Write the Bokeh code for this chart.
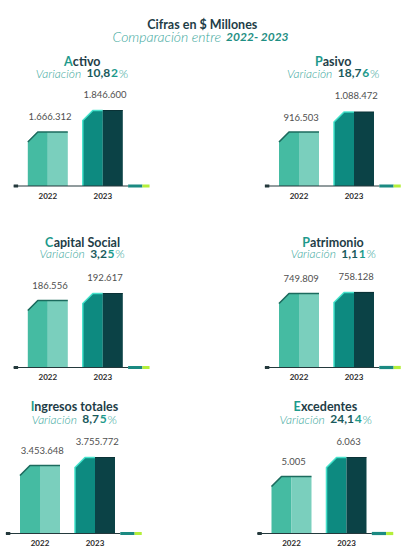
from bokeh.plotting import figure
from bokeh.layouts import column, row
from bokeh.models import Range1d, Label, ColumnDataSource
from bokeh.core.properties import value
from bokeh.embed import file_html
from bokeh.resources import INLINE

# ---------------- data ----------------
header_title = "Cifras en $ Millones"
header_sub = "Comparación entre"
header_years = "2022- 2023"
years = ["2022", "2023"]
panel_names = ["Activo", "Pasivo", "Capital Social", "Patrimonio",
               "Ingresos totales", "Excedentes"]
values_2022 = [1666312, 916503, 186556, 749809, 3453648, 5005]
values_2023 = [1846600, 1088472, 192617, 758128, 3755772, 6063]
variation_pct = ["10,82", "18,76", "3,25", "1,11", "8,75", "24,14"]
# value sitting on the baseline of each panel's (non zero based) axis
axis_floor = [1213495, 452187, 128544, 134203, 885594, 1831]

# ---------------- layout / style ----------------
col_w = [200, 201]
row_h = [167, 175, 163]
header_h = 48
base_px = [137.5, 152, 143]     # baseline, px from top of the row
title_px = [13, 27, 16]
var_px = [24.5, 38, 28.5]
c0_px = [47.3, 98.5, 47.3, 98.5, 39.5, 91]   # px of the 2022 bar centre
bar23_px = [75.5, 74, 74, 75, 76, 76]        # drawn height of 2023 bar
UNIT = 55.0
BAR_W = 40 / UNIT
CH_X = 10 / UNIT
CH_PX = 10

FONT = "Lato"
FONT_L = "Lato Light"
DARK = "#1e3d47"
TEAL = "#1d9a8c"
TEAL_L = "#3aa79c"
NUM_DARK = "#1a5a5c"
C22 = ["#45bba2", "#7acfbd", "#1c6b5e"]
C23 = ["#0d8a80", "#0b4246", "#3fe3cb"]

W = {c: 0.58 for c in "0123456789"}
W.update({",": .23, ".": .23, "%": .80, " ": .20, "-": .32, "$": .58})
W.update(dict(A=.68, C=.67, E=.57, I=.27, M=.87, P=.60, S=.53, V=.66))
W.update(dict(a=.49, c=.44, d=.56, e=.52, i=.23, l=.23, n=.55, o=.56, p=.56,
              r=.36, s=.41, t=.34, v=.50, m=.84, g=.50, f=.32, u=.55, x=.50))
W["ó"] = .56


def tw(s, size, bold=False):
    return sum(W.get(c, .5) for c in s) * size * (1.04 if bold else 0.95)


def add_pieces(p, pieces, cx, ytop, H, gaps=None):
    gaps = gaps or [0] * len(pieces)
    total = sum(tw(t, sz, b) for t, sz, b, _, _, _ in pieces) + sum(gaps)
    x = cx - total / 2
    for (t, sz, b, style, color, font), g in zip(pieces, gaps):
        p.add_layout(Label(x=x, y=H - ytop, x_units="screen", y_units="screen",
                           text=t, text_font=font, text_font_size=f"{sz}px",
                           text_font_style=style, text_color=color,
                           text_align="left", text_baseline="middle"))
        x += tw(t, sz, b) + g


def fmt(v):
    return f"{v:,}".replace(",", ".")


def base_fig(w, h, xr, yr):
    p = figure(width=w, height=h, x_range=xr, y_range=yr,
               toolbar_location=None, output_backend="svg",
               x_axis_location=None, y_axis_location=None,
               min_border=0, tools="")
    p.outline_line_color = None
    p.grid.visible = False
    p.background_fill_color = "white"
    p.border_fill_color = "white"
    return p


def panel(k):
    r, c = divmod(k, 2)
    Wd, H = col_w[c], row_h[r]
    v22, v23, floor = values_2022[k], values_2023[k], axis_floor[k]
    u = (v23 - floor) / bar23_px[k]
    b = base_px[r]
    x0 = -c0_px[k] / UNIT
    p = base_fig(Wd, H, Range1d(x0, x0 + Wd / UNIT),
                 Range1d(floor - (H - b) * u, floor + b * u))
    chy = CH_PX * u
    for i, (v, cols) in enumerate(zip([v22, v23], [C22, C23])):
        a, m, z = i - BAR_W / 2, i, i + BAR_W / 2
        p.patch([a, a, a + CH_X, m, m], [floor, v - chy, v, v, floor],
                fill_color=cols[0], line_color=None)
        p.patch([m, m, z, z], [floor, v, v, floor],
                fill_color=cols[1], line_color=None)
        if i == 0:
            p.line([a, a + CH_X, z], [v - chy, v, v], line_color=cols[2],
                   line_width=1.6)
        else:
            p.line([a, a, a + CH_X, m], [floor, v - chy, v, v],
                   line_color=cols[2], line_width=1.6, line_alpha=0.9)
            p.line([m, z], [v, v], line_color="#0a3236", line_width=1.2)
    # baseline decoration
    p.line([-0.62, 1.46], [floor, floor], line_color="#24393c", line_width=1.2)
    p.line([-0.62, -0.54], [floor, floor], line_color="#24393c", line_width=3)
    p.line([1.46, 1.72], [floor, floor], line_color="#1b8a82", line_width=3.2)
    p.line([1.72, 1.85], [floor, floor], line_color="#b4ef3a", line_width=3.2)
    # value labels
    src = ColumnDataSource(dict(x=[0.04, 1.04], y=[v22, v23],
                                t=[fmt(v22), fmt(v23)], off=[-15, -16.5]))
    p.text(x="x", y="y", text="t", y_offset="off", source=src,
           text_font=value(FONT), text_font_size="9.5px",
           text_color="#505050", text_align="center", text_baseline="middle")
    p.text(x=[0, 1], y=[floor, floor], text=years, y_offset=9.5,
           text_font=value(FONT), text_font_style="bold",
           text_font_size="8px", text_color="#2b2b2b",
           text_align="center", text_baseline="middle")
    # titles
    cx = c0_px[k] + 0.62 * UNIT
    name = panel_names[k]
    add_pieces(p, [(name[0], 12.5, True, "bold", TEAL, FONT),
                   (name[1:], 12.5, True, "bold", DARK, FONT)],
               cx, title_px[r], H)
    pct = variation_pct[k]
    add_pieces(p, [("Variación", 12, False, "italic", TEAL_L, FONT_L),
                   (pct[:-1], 12, True, "bold", NUM_DARK, FONT),
                   (pct[-1], 12, True, "bold", TEAL, FONT),
                   ("%", 12, False, "normal", TEAL_L, FONT_L)],
               cx, var_px[r], H, gaps=[5, 0, 0.5, 0])
    return p


hdr = base_fig(401, header_h, Range1d(0, 1), Range1d(0, 1))
add_pieces(hdr, [(header_title, 12.5, True, "bold", DARK, FONT)], 201, 24, header_h)
add_pieces(hdr, [(header_sub, 14, False, "italic", TEAL_L, FONT_L),
                 (header_years, 12, True, "bold italic", "#1f8f84", FONT)],
           201, 36, header_h, gaps=[4, 0])

panels = [panel(k) for k in range(6)]
layout = column(hdr,
                row(panels[0], panels[1]),
                row(panels[2], panels[3]),
                row(panels[4], panels[5]))

open("out.html", "w").write(file_html(layout, INLINE))
